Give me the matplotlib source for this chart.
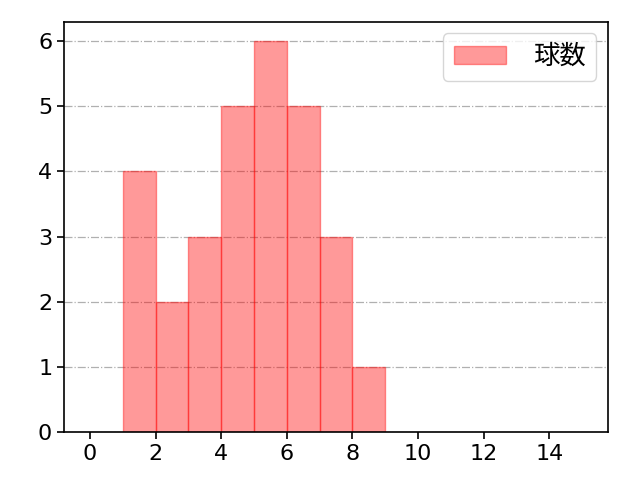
import matplotlib
matplotlib.use("Agg")
import matplotlib.pyplot as plt
import numpy as np

plt.rcParams['font.family'] = ['DejaVu Sans', 'Noto Sans CJK JP']

bin_edges = [1, 2, 3, 4, 5, 6, 7, 8, 9]
counts = [4, 2, 3, 5, 6, 5, 3, 1]
label = "球数"

fig, ax = plt.subplots(figsize=(6.4, 4.8), dpi=100)
ax.set_axisbelow(True)
ax.grid(axis="y", linestyle="-.", color="#b0b0b0", lw=0.9)
ax.hist(bin_edges[:-1], bins=bin_edges, weights=counts,
        color="red", alpha=0.4, edgecolor="red", lw=1.0, label=label)

ax.set_xlim(-0.79, 15.79)
ax.set_ylim(0, 6.3)
ax.set_xticks(np.arange(0, 15, 2))
ax.set_yticks(range(0, 7))
for lab in ax.get_xticklabels() + ax.get_yticklabels():
    lab.set_fontsize(16)
ax.tick_params(length=5, width=1.2)
for s in ax.spines.values():
    s.set_linewidth(1.2)
ax.legend(loc="upper right", prop={"size": 19}, handlelength=2.0,
          handletextpad=1.0, borderaxespad=0.45)

fig.subplots_adjust(left=0.1, right=0.95, top=0.955, bottom=0.1)
fig.savefig("out.png")
